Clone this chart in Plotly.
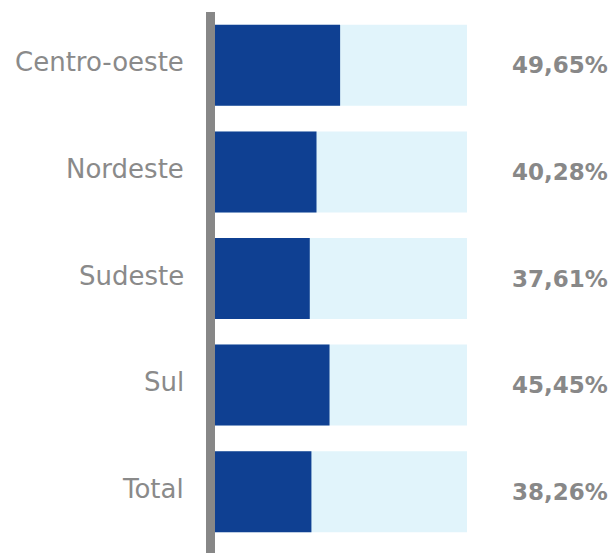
import plotly.graph_objects as go

# Share per region (%), top to bottom
regions = ["Centro-oeste", "Nordeste", "Sudeste", "Sul", "Total"]
shares = [49.65, 40.28, 37.61, 45.45, 38.26]
full_scale = [100, 100, 100, 100, 100]
share_labels = ["49,65%", "40,28%", "37,61%", "45,45%", "38,26%"]

W, H = 616, 553
ML, MR, MT, MB = 215, 149, 12, 8
plot_w = W - ML - MR
plot_h = H - MT - MB

fig = go.Figure()

# light track behind each bar
fig.add_trace(go.Bar(
    y=regions, x=full_scale, orientation="h",
    marker=dict(color="#e1f4fb", line=dict(width=0)),
    hoverinfo="skip", showlegend=False,
))
# actual share
fig.add_trace(go.Bar(
    y=regions, x=shares, orientation="h",
    marker=dict(color="#0f4092", line=dict(width=0)),
    showlegend=False,
))

annotations = []
for name, lab in zip(regions, share_labels):
    annotations.append(dict(
        x=(186 - ML) / plot_w, xref="paper", xanchor="right",
        y=name, yref="y", yanchor="middle", yshift=3,
        text=name, showarrow=False,
        font=dict(family="DejaVu Sans", size=26, color="#8a8a8a"),
    ))
    annotations.append(dict(
        x=(610 - ML) / plot_w, xref="paper", xanchor="right",
        y=name, yref="y", yanchor="middle",
        text=f"<b>{lab}</b>", showarrow=False,
        font=dict(family="DejaVu Sans", size=23, color="#888888"),
    ))

# thick grey baseline on the left of the bars
shapes = [dict(
    type="rect", xref="paper", yref="paper",
    x0=-9 / plot_w, x1=0, y0=-MB / plot_h, y1=1,
    fillcolor="#878787", line=dict(width=0), layer="above",
)]

fig.update_layout(
    width=W, height=H,
    margin=dict(l=ML, r=MR, t=MT, b=MB),
    barmode="overlay", bargap=0.24,
    paper_bgcolor="white", plot_bgcolor="white",
    xaxis=dict(range=[0, 100], visible=False, fixedrange=True),
    yaxis=dict(autorange="reversed", showticklabels=False, showgrid=False,
               zeroline=False, showline=False, ticks="", fixedrange=True),
    annotations=annotations, shapes=shapes,
)

fig.write_html("out.html")
